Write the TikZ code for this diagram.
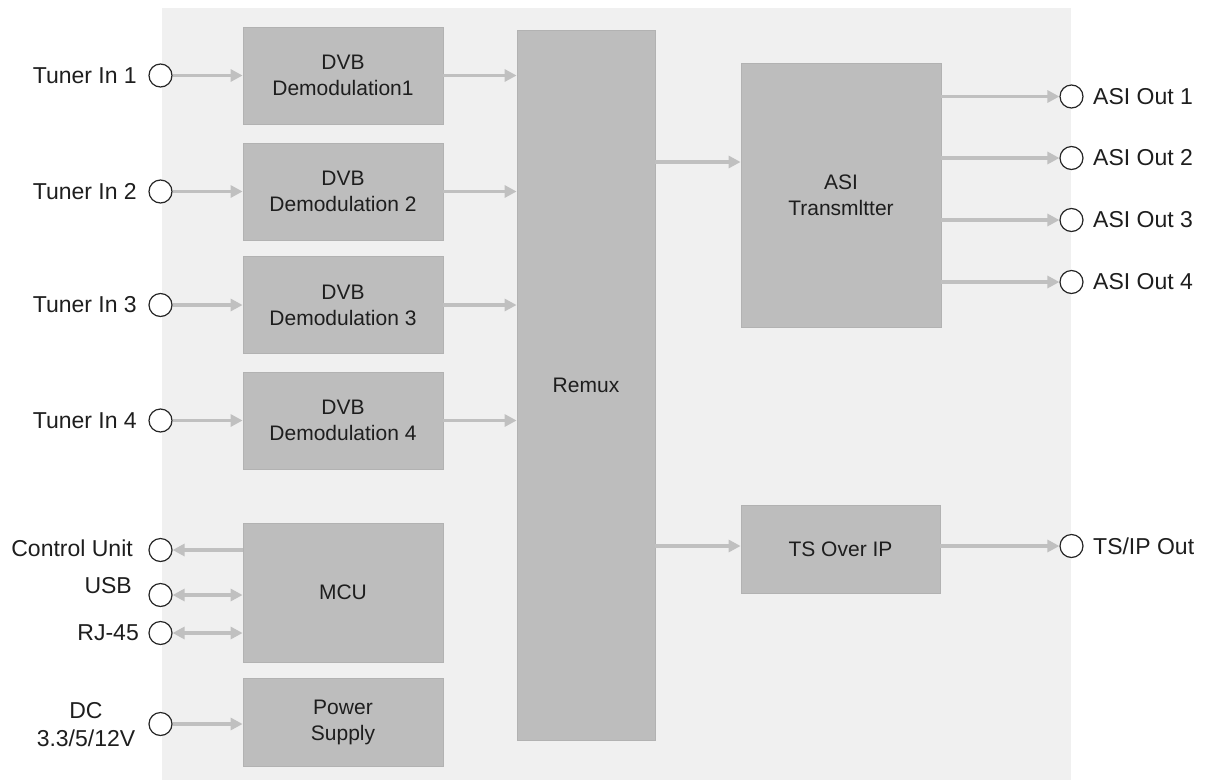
\documentclass[tikz,border=0pt]{standalone}
\usepackage{fontspec}
\setmainfont{Liberation Sans}
\usetikzlibrary{arrows.meta,calc}
\definecolor{bgc}{HTML}{F0F0F0}
\definecolor{boxc}{HTML}{BDBDBD}
\definecolor{boxd}{HTML}{B2B2B2}
\definecolor{arrc}{HTML}{C0C0C0}
\definecolor{txtc}{HTML}{1E1E1E}
\begin{document}
\begin{tikzpicture}[x=1pt,y=-1pt,
  every node/.style={font=\fontsize{21}{26}\selectfont, text=txtc},
  blk/.style={draw=boxd, line width=0.8pt, fill=boxc, align=center, inner sep=0pt},
  port/.style={circle, draw=black!85, line width=1.2pt, fill=white, minimum size=23pt, inner sep=0pt},
  lbl/.style={inner sep=0pt, align=center, font=\fontsize{23}{28}\selectfont},
  conn/.style={draw=arrc, line width=3.2pt, -{Triangle[length=12pt,width=12pt]}},
  bconn/.style={draw=arrc, line width=3.2pt, {Triangle[length=12pt,width=12pt]}-{Triangle[length=12pt,width=12pt]}}
]
\useasboundingbox (0,0) rectangle (1208,780);
\fill[bgc] (162,8) rectangle (1071,780);

% blocks
\node[blk, minimum width=200pt, minimum height=97pt] (d1) at (343,75.5) {DVB\\Demodulation1};
\node[blk, minimum width=200pt, minimum height=97pt] (d2) at (343,191.5) {DVB\\Demodulation 2};
\node[blk, minimum width=200pt, minimum height=97pt] (d3) at (343,305) {DVB\\Demodulation 3};
\node[blk, minimum width=200pt, minimum height=97pt] (d4) at (343,420.5) {DVB\\Demodulation 4};
\node[blk, minimum width=200pt, minimum height=139pt] (mcu) at (343,592.5) {MCU};
\node[blk, minimum width=200pt, minimum height=88pt] (ps) at (343,722) {Power\\Supply};
\node[blk, minimum width=138pt, minimum height=710pt] (rx) at (586,385) {Remux};
\node[blk, minimum width=200pt, minimum height=264pt] (asi) at (841,195) {ASI\\Transmltter};
\node[blk, minimum width=199pt, minimum height=88pt] (ts) at (840.5,549) {TS Over IP};

% left ports
\node[port] (t1) at (160.5,75.5) {};
\node[port] (t2) at (160.5,191.5) {};
\node[port] (t3) at (160.5,305) {};
\node[port] (t4) at (160.5,420.5) {};
\node[port] (cu) at (160.5,550) {};
\node[port] (usb) at (160.5,595) {};
\node[port] (rj) at (160.5,633) {};
\node[port] (dc) at (160.5,724) {};

\node[lbl, anchor=east] (lt1) at (137,75.5) {Tuner In 1};
\node[lbl, anchor=east] (lt2) at (137,191.5) {Tuner In 2};
\node[lbl, anchor=east] (lt3) at (137,305) {Tuner In 3};
\node[lbl, anchor=east] (lt4) at (137,420.5) {Tuner In 4};
\node[lbl, anchor=east] (lcu) at (133,548) {Control Unit};
\node[lbl, anchor=east] (lusb) at (132,586) {USB};
\node[lbl, anchor=east] (lrj) at (139,633) {RJ-45};
\node[lbl] (ldc) at (86,725) {DC\\3.3/5/12V};

% right ports
\node[port] (o1) at (1071.5,96.5) {};
\node[port] (o2) at (1071.5,158) {};
\node[port] (o3) at (1071.5,220) {};
\node[port] (o4) at (1071.5,282) {};
\node[port] (oip) at (1071.5,546) {};
\node[lbl, anchor=west] (lo1) at (1093,96.5) {ASI Out 1};
\node[lbl, anchor=west] (lo2) at (1093,158) {ASI Out 2};
\node[lbl, anchor=west] (lo3) at (1093,220) {ASI Out 3};
\node[lbl, anchor=west] (lo4) at (1093,282) {ASI Out 4};
\node[lbl, anchor=west] (loip) at (1093,546) {TS/IP Out};

\coordinate (ain) at ($(asi.west)+(0,-33)$);

% connectors
\draw[conn] (t1) -- (d1);
\draw[conn] (t2) -- (d2);
\draw[conn] (t3) -- (d3);
\draw[conn] (t4) -- (d4);
\draw[conn] (d1.east) -- (d1.east -| rx.west);
\draw[conn] (d2.east) -- (d2.east -| rx.west);
\draw[conn] (d3.east) -- (d3.east -| rx.west);
\draw[conn] (d4.east) -- (d4.east -| rx.west);
\draw[conn] (cu.east -| mcu.west) -- (cu);
\draw[bconn] (usb) -- (usb.east -| mcu.west);
\draw[bconn] (rj) -- (rj.east -| mcu.west);
\draw[conn] (dc) -- (dc.east -| ps.west);
\draw[conn] (ain -| rx.east) -- (ain);
\draw[conn] (rx.east |- oip.west) -- (oip.west -| ts.west);
\draw[conn] (o1.west -| asi.east) -- (o1);
\draw[conn] (o2.west -| asi.east) -- (o2);
\draw[conn] (o3.west -| asi.east) -- (o3);
\draw[conn] (o4.west -| asi.east) -- (o4);
\draw[conn] (oip.west -| ts.east) -- (oip);
\end{tikzpicture}
\end{document}
